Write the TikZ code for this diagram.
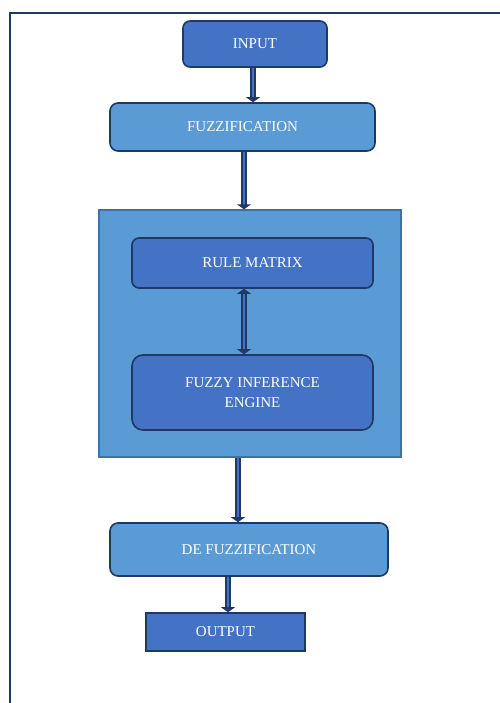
\documentclass[tikz,border=0pt]{standalone}
\usepackage{fontspec}
\setmainfont{Liberation Serif}
\usetikzlibrary{arrows.meta}
\definecolor{navy}{HTML}{1F3864}
\definecolor{dblue}{HTML}{4472C4}
\definecolor{lblue}{HTML}{5B9BD5}
\definecolor{cborder}{HTML}{41719C}
\tikzset{
  boxbase/.style={draw=navy, line width=1.6pt, text=white, align=center,
    font=\fontsize{15}{20}\selectfont, inner sep=0pt},
  darkbox/.style={boxbase, fill=dblue, rounded corners=7pt},
  lightbox/.style={boxbase, fill=lblue, rounded corners=8pt},
  sharpbox/.style={boxbase, fill=dblue},
  container/.style={draw=cborder, line width=1.4pt, fill=lblue, inner sep=0pt},
  flow/.style={draw=navy, line width=1.6pt, double=dblue, double distance=2.8pt,
    -{Triangle[length=5pt,width=14pt,fill=navy]}},
  flowboth/.style={flow, {Triangle[length=5pt,width=14pt,fill=navy]}-{Triangle[length=5pt,width=14pt,fill=navy]}},
  frame/.style={draw=navy, line width=1.8pt}
}
\begin{document}
\begin{tikzpicture}[x=1pt,y=-1pt]
\useasboundingbox (0,0) rectangle (499,703);
\draw[frame] (10,710) -- (10,13) -- (510,13);

\node[darkbox, minimum width=144pt, minimum height=46pt] (input) at (255,44) {INPUT};
\node[lightbox, minimum width=265pt, minimum height=48pt] (fuzz) at (242.5,127) {FUZZIFICATION};
\node[container, minimum width=302pt, minimum height=247pt] (cont) at (250,333.5) {};
\node[darkbox, minimum width=241pt, minimum height=50pt] (rule) at (252.5,263) {RULE MATRIX};
\node[darkbox, rounded corners=11pt, minimum width=241pt, minimum height=75pt] (fie) at (252.5,392.5) {FUZZY INFERENCE\\ENGINE};
\node[lightbox, minimum width=278pt, minimum height=53pt] (defuzz) at (249,549.5) {DE FUZZIFICATION};
\node[sharpbox, minimum width=159pt, minimum height=38pt] (output) at (225.5,632) {OUTPUT};

\draw[flow] ([xshift=-2pt]input.south) -- ([xshift=-2pt]input.south |- fuzz.north);
\draw[flow] ([xshift=1.5pt]fuzz.south) -- ([xshift=1.5pt]fuzz.south |- cont.north);
\draw[flowboth] ([xshift=-8.5pt]rule.south) -- ([xshift=-8.5pt]fie.north);
\draw[flow] ([xshift=-12pt]cont.south) -- ([xshift=-12pt]cont.south |- defuzz.north);
\draw[flow] ([xshift=2.5pt]output.north |- defuzz.south) -- ([xshift=2.5pt]output.north);
\end{tikzpicture}
\end{document}
